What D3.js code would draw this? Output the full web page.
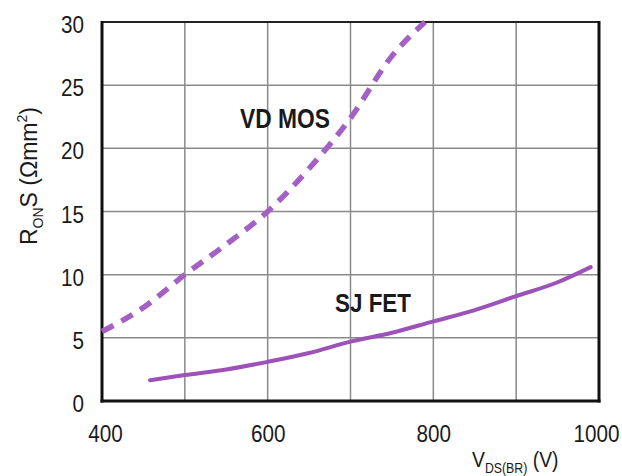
<!DOCTYPE html>
<html>
<head>
<meta charset="utf-8">
<script src="https://cdn.jsdelivr.net/npm/d3@7/dist/d3.min.js"></script>
<style>
  html, body { margin: 0; padding: 0; background: #fff; }
  svg { display: block; }
  text { font-family: "Liberation Sans", Arial, sans-serif; fill: #1a1a1a; }
</style>
</head>
<body>
<svg id="chart" width="622" height="476"></svg>
<script>
// ---- data ----
const xTicks = [400, 600, 800, 1000];
const xGrid = [400, 500, 600, 700, 800, 900, 1000];
const yTicks = [0, 5, 10, 15, 20, 25, 30];

const vdmosV = [400, 450, 500, 550, 600, 650, 700, 750, 790];
const vdmosR = [5.5, 7.4, 10.0, 12.4, 15.0, 18.4, 22.4, 27.3, 30.0];

const sjfetV = [458, 500, 550, 600, 650, 700, 750, 800, 850, 900, 950, 990];
const sjfetR = [1.65, 2.05, 2.5, 3.1, 3.8, 4.7, 5.4, 6.3, 7.2, 8.3, 9.4, 10.6];

const seriesLabels = ["VD MOS", "SJ FET"];

// ---- layout ----
const svg = d3.select("#chart");
const pL = 102, pR = 599, pT = 22, pB = 401;
const SX = 0.88; // horizontal squeeze to mimic the narrow face

const x = d3.scaleLinear().domain([400, 1000]).range([pL, pR]);
const y = d3.scaleLinear().domain([0, 30]).range([pB, pT]);

// grid
const g = svg.append("g");
g.selectAll(".vg").data(xGrid).enter().append("line")
  .attr("x1", d => x(d)).attr("x2", d => x(d))
  .attr("y1", pT).attr("y2", pB)
  .attr("stroke", "#8a8a8a").attr("stroke-width", 1.5);
g.selectAll(".hg").data(yTicks).enter().append("line")
  .attr("x1", pL).attr("x2", pR)
  .attr("y1", d => y(d)).attr("y2", d => y(d))
  .attr("stroke", "#8a8a8a").attr("stroke-width", 1.5);

// frame
svg.append("line").attr("x1", pL).attr("x2", pR).attr("y1", pT).attr("y2", pT)
  .attr("stroke", "#222").attr("stroke-width", 2);
svg.append("line").attr("x1", pR).attr("x2", pR).attr("y1", pT - 1).attr("y2", pB + 1.5)
  .attr("stroke", "#111").attr("stroke-width", 3);
svg.append("line").attr("x1", pL).attr("x2", pL).attr("y1", pT - 1).attr("y2", pB + 1.5)
  .attr("stroke", "#111").attr("stroke-width", 3);
svg.append("line").attr("x1", pL - 1.5).attr("x2", pR + 1.5).attr("y1", pB).attr("y2", pB)
  .attr("stroke", "#111").attr("stroke-width", 3);

// axes (labels only, via d3 axes)
const yAxis = d3.axisLeft(y).tickValues(yTicks).tickSize(0).tickPadding(18 / SX).tickFormat(d3.format("d"));
const ya = svg.append("g").attr("transform", `translate(${pL},0)`).call(yAxis);
ya.select(".domain").remove();
ya.selectAll("text").attr("font-size", 23.5).attr("dy", "0.45em")
  .attr("transform", `scale(${SX},1)`)
  .style("font-family", '"Liberation Sans", Arial, sans-serif').attr("fill", "#1a1a1a");

const xShift = {400: 3, 1000: -3};
const xAxis = d3.axisBottom(x).tickValues(xTicks).tickSize(0).tickPadding(24).tickFormat(d3.format("d"));
const xa = svg.append("g").attr("transform", `translate(0,${pB})`).call(xAxis);
xa.select(".domain").remove();
xa.selectAll("text").attr("font-size", 23.5)
  .attr("transform", d => `translate(${xShift[d] || 0},0) scale(${SX},1)`)
  .style("font-family", '"Liberation Sans", Arial, sans-serif').attr("fill", "#1a1a1a");

// series
const line = d3.line().x(d => x(d[0])).y(d => y(d[1])).curve(d3.curveMonotoneX);
const vd = vdmosV.map((v, i) => [v, vdmosR[i]]);
const sj = sjfetV.map((v, i) => [v, sjfetR[i]]);

svg.append("path").datum(vd).attr("d", line)
  .attr("fill", "none").attr("stroke", "#a560c6").attr("stroke-width", 5.5)
  .attr("stroke-dasharray", "13,9").attr("stroke-linecap", "butt");
svg.append("path").datum(sj).attr("d", line)
  .attr("fill", "none").attr("stroke", "#9c52b8").attr("stroke-width", 4)
  .attr("stroke-linecap", "round");

// series labels
svg.append("text").attr("x", 240).attr("y", 128).attr("font-size", 27).attr("font-weight", "bold")
  .attr("textLength", 90).attr("lengthAdjust", "spacingAndGlyphs")
  .text(seriesLabels[0]);
svg.append("text").attr("x", 335).attr("y", 312).attr("font-size", 26).attr("font-weight", "bold")
  .attr("textLength", 76).attr("lengthAdjust", "spacingAndGlyphs")
  .text(seriesLabels[1]);

// x axis title
const xt = svg.append("text").attr("transform", `translate(472,467) scale(${SX},1)`).attr("font-size", 22);
xt.append("tspan").text("V");
xt.append("tspan").attr("font-size", 14).attr("dy", 6).text("DS(BR)");
xt.append("tspan").attr("dy", -6).text(" (V)");

// y axis title
const yt = svg.append("text").attr("transform", "translate(37,245) rotate(-90)").attr("font-size", 23);
yt.append("tspan").text("R");
yt.append("tspan").attr("font-size", 14).attr("dy", 6).text("ON");
yt.append("tspan").attr("dy", -6).text("S (Ωmm");
yt.append("tspan").attr("font-size", 14).attr("dy", -10).text("2");
yt.append("tspan").attr("dy", 10).text(")");
</script>
</body>
</html>
